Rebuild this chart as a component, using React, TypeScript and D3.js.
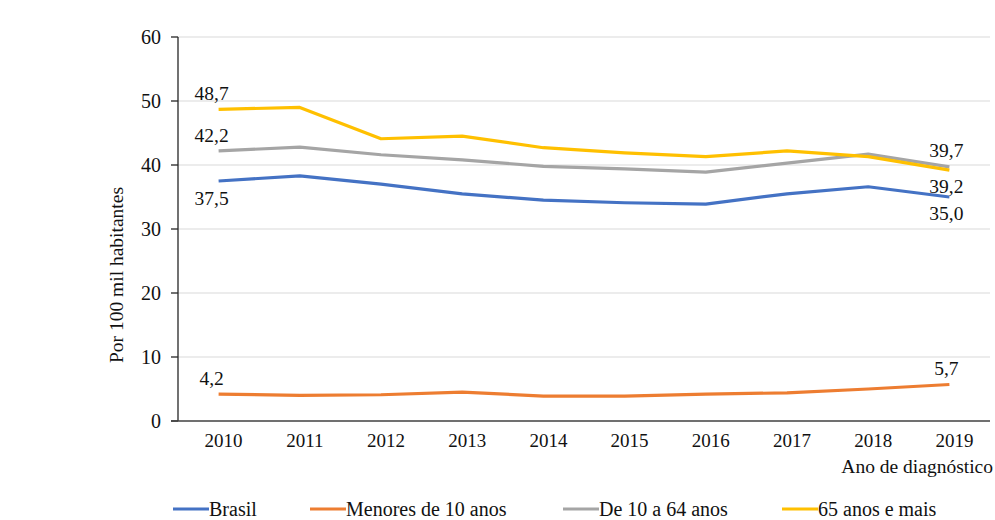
import * as d3 from 'd3';

const years = ['2010', '2011', '2012', '2013', '2014', '2015', '2016', '2017', '2018', '2019'];
const brasil = [37.5, 38.3, 37.0, 35.5, 34.5, 34.1, 33.9, 35.5, 36.6, 35.0];
const menores10 = [4.2, 4.0, 4.1, 4.5, 3.9, 3.9, 4.2, 4.4, 5.0, 5.7];
const de10a64 = [42.2, 42.8, 41.6, 40.8, 39.8, 39.4, 38.9, 40.3, 41.7, 39.7];
const mais65 = [48.7, 49.0, 44.1, 44.5, 42.7, 41.9, 41.3, 42.2, 41.3, 39.2];
const yTicks = [0, 10, 20, 30, 40, 50, 60];

const seriesNames = ['Brasil', 'Menores de 10 anos', 'De 10 a 64 anos', '65 anos e mais'];
const seriesValues = [brasil, menores10, de10a64, mais65];
const colors = ['#4472C4', '#ED7D31', '#A5A5A5', '#FFC000'];

// label placement for first / last point: 1 = above, -1 = below
const firstLabelSide = [-1, 1, 1, 1];
const lastLabelSide = [-1, 1, 1, -1];
const legendX = [173, 310, 563, 782];

const W = 995;
const H = 520;
const left = 178;
const right = 990;
const top = 37;
const bottom = 421;
const font = "'Liberation Serif', 'Times New Roman', Times, serif";

export default function App() {
  const x = d3.scaleBand<string>().domain(years).range([left, right]);
  const cx = (d: string) => (x(d) as number) + x.bandwidth() / 2;
  const y = d3.scaleLinear().domain([0, 60]).range([bottom, top]);

  const line = d3
    .line<number>()
    .x((_, i) => cx(years[i]))
    .y((d) => y(d));

  const fmt = (v: number) => v.toFixed(1).replace('.', ',');

  return (
    <svg
      width={W}
      height={H}
      style={{ position: 'absolute', left: 0, top: 0, background: '#fff', fontFamily: font }}
    >
      {/* gridlines */}
      {yTicks.filter((t) => t > 0).map((t) => (
        <line key={t} x1={left} x2={right} y1={y(t)} y2={y(t)} stroke="#d9d9d9" strokeWidth={1} />
      ))}

      {/* y axis */}
      <line x1={left} x2={left} y1={top} y2={bottom} stroke="#262626" strokeWidth={1.3} />
      {yTicks.map((t) => (
        <g key={t}>
          <line x1={left - 7} x2={left} y1={y(t)} y2={y(t)} stroke="#262626" strokeWidth={1.3} />
          <text x={161} y={y(t)} dy="0.34em" textAnchor="end" fontSize={20} fill="#111">
            {t}
          </text>
        </g>
      ))}

      {/* x axis */}
      <line x1={left - 7} x2={right} y1={bottom} y2={bottom} stroke="#404040" strokeWidth={1.3} />
      {years.map((yr) => (
        <text key={yr} x={cx(yr) + 5} y={447} textAnchor="middle" fontSize={19} fill="#111">
          {yr}
        </text>
      ))}

      <text transform={`translate(123,275) rotate(-90)`} textAnchor="middle" fontSize={19.5} fill="#111">
        Por 100 mil habitantes
      </text>
      <text x={993} y={473} textAnchor="end" fontSize={19.5} fill="#111">
        Ano de diagnóstico
      </text>

      {/* series */}
      {seriesValues.map((vals, s) => (
        <path key={s} d={line(vals) as string} fill="none" stroke={colors[s]} strokeWidth={3.2} strokeLinejoin="round" />
      ))}

      {/* data labels at first and last year */}
      {seriesValues.map((vals, s) => {
        const first = vals[0];
        const last = vals[vals.length - 1];
        const fy = y(first) + (firstLabelSide[s] > 0 ? -9 : 24);
        const ly = y(last) + (lastLabelSide[s] > 0 ? -10 : 23);
        return (
          <g key={s} fontSize={19.5} fill="#111">
            <text x={cx(years[0]) - 7} y={fy} textAnchor="middle">
              {fmt(first)}
            </text>
            <text x={cx(years[years.length - 1]) - 3} y={ly} textAnchor="middle">
              {fmt(last)}
            </text>
          </g>
        );
      })}

      {/* legend */}
      {seriesNames.map((name, s) => (
        <g key={name}>
          <line x1={legendX[s]} x2={legendX[s] + 36} y1={509} y2={509} stroke={colors[s]} strokeWidth={3.2} />
          <text x={legendX[s] + 36} y={516} fontSize={20} fill="#111">
            {name}
          </text>
        </g>
      ))}
    </svg>
  );
}
